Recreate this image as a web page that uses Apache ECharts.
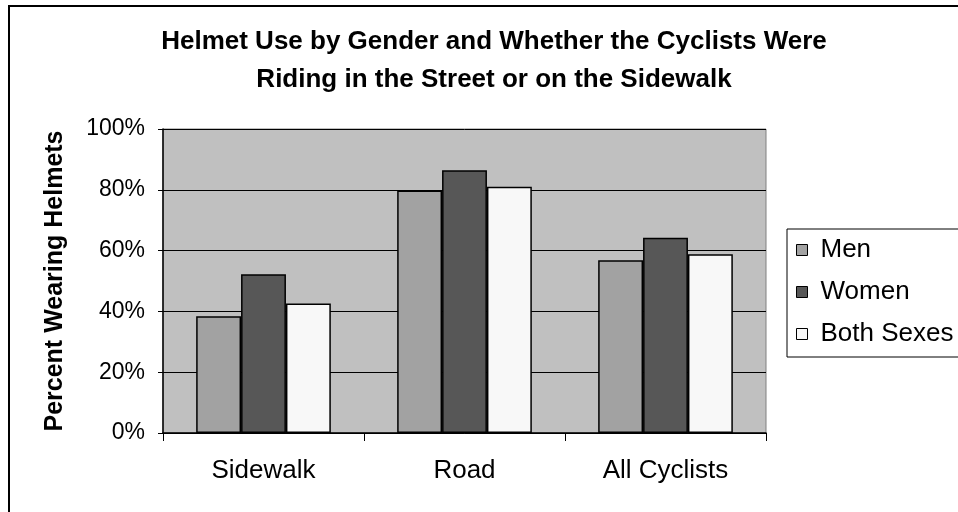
<!DOCTYPE html>
<html>
<head>
<meta charset="utf-8">
<script src="https://cdn.jsdelivr.net/npm/echarts@6/dist/echarts.min.js"></script>
<style>
html,body{margin:0;padding:0;background:#fff;}
#chart{width:958px;height:512px;}
</style>
</head>
<body>
<div id="chart"></div>
<script>
const categories = ['Sidewalk', 'Road', 'All Cyclists'];
const seriesNames = ['Men', 'Women', 'Both Sexes'];
const men = [38.4, 79.8, 56.8];
const women = [52.2, 86.4, 64.2];
const bothSexes = [42.6, 81.0, 58.8];
const yTicks = [0, 20, 40, 60, 80, 100];
const titleLines = ['Helmet Use by Gender and Whether the Cyclists Were', 'Riding in the Street or on the Sidewalk'];
const yAxisTitle = 'Percent Wearing Helmets';

const colors = ['#a2a2a2', '#575757', '#f8f8f8'];
const FONT = '"Liberation Sans", Arial, sans-serif';

const chart = echarts.init(document.getElementById('chart'), null, {renderer: 'canvas'});
const dataSets = [men, women, bothSexes];

const option = {
  animation: false,
  backgroundColor: '#fff',
  textStyle: {fontFamily: FONT, color: '#000'},
  title: {
    text: titleLines.join('\n'),
    left: 489,
    top: 18,
    textAlign: 'center',
    textStyle: {fontFamily: FONT, fontSize: 26, fontWeight: 'bold', color: '#000', lineHeight: 38}
  },
  graphic: [{
    type: 'polyline',
    shape: {points: [[9, 512], [9, 6], [958, 6]]},
    style: {stroke: '#000', lineWidth: 2, fill: null},
    silent: true
  }],
  legend: {
    orient: 'vertical',
    left: 787,
    top: 229,
    data: seriesNames,
    icon: 'rect',
    itemWidth: 11,
    itemHeight: 11,
    itemGap: 14,
    padding: [7, 30, 9, 9],
    borderColor: '#000',
    borderWidth: 1,
    backgroundColor: '#fff',
    textStyle: {fontFamily: FONT, fontSize: 26, color: '#000', lineHeight: 28, padding: [0, 0, 0, 8]},
    itemStyle: {borderColor: '#000', borderWidth: 1}
  },
  grid: {
    left: 163, right: 192, top: 129, bottom: 79,
    show: true,
    backgroundColor: '#c0c0c0',
    borderColor: '#808080',
    borderWidth: 1
  },
  xAxis: {
    type: 'category',
    data: categories,
    boundaryGap: true,
    axisLine: {show: true, lineStyle: {color: '#000', width: 1.5}},
    axisTick: {show: true, length: 8, lineStyle: {color: '#000', width: 1}, alignWithLabel: false},
    axisLabel: {fontFamily: FONT, fontSize: 26, color: '#000', margin: 25}
  },
  yAxis: {
    type: 'value',
    min: yTicks[0],
    max: yTicks[yTicks.length - 1],
    interval: 20,
    name: yAxisTitle,
    nameLocation: 'middle',
    nameGap: 95,
    nameTextStyle: {fontFamily: FONT, fontSize: 25, fontWeight: 'bold', color: '#000'},
    axisLine: {show: true, lineStyle: {color: '#000', width: 1.5}},
    axisTick: {show: true, length: 5, lineStyle: {color: '#000', width: 1}},
    axisLabel: {fontFamily: FONT, fontSize: 23, color: '#000', margin: 18, formatter: '{value}%'},
    splitLine: {show: true, lineStyle: {color: '#000', width: 1}}
  },
  series: seriesNames.map((name, i) => ({
    name: name,
    type: 'bar',
    data: dataSets[i],
    barGap: '0%',
    barCategoryGap: '33%',
    itemStyle: {color: colors[i], borderColor: '#000', borderWidth: 1.5}
  }))
};
chart.setOption(option);
</script>
</body>
</html>
